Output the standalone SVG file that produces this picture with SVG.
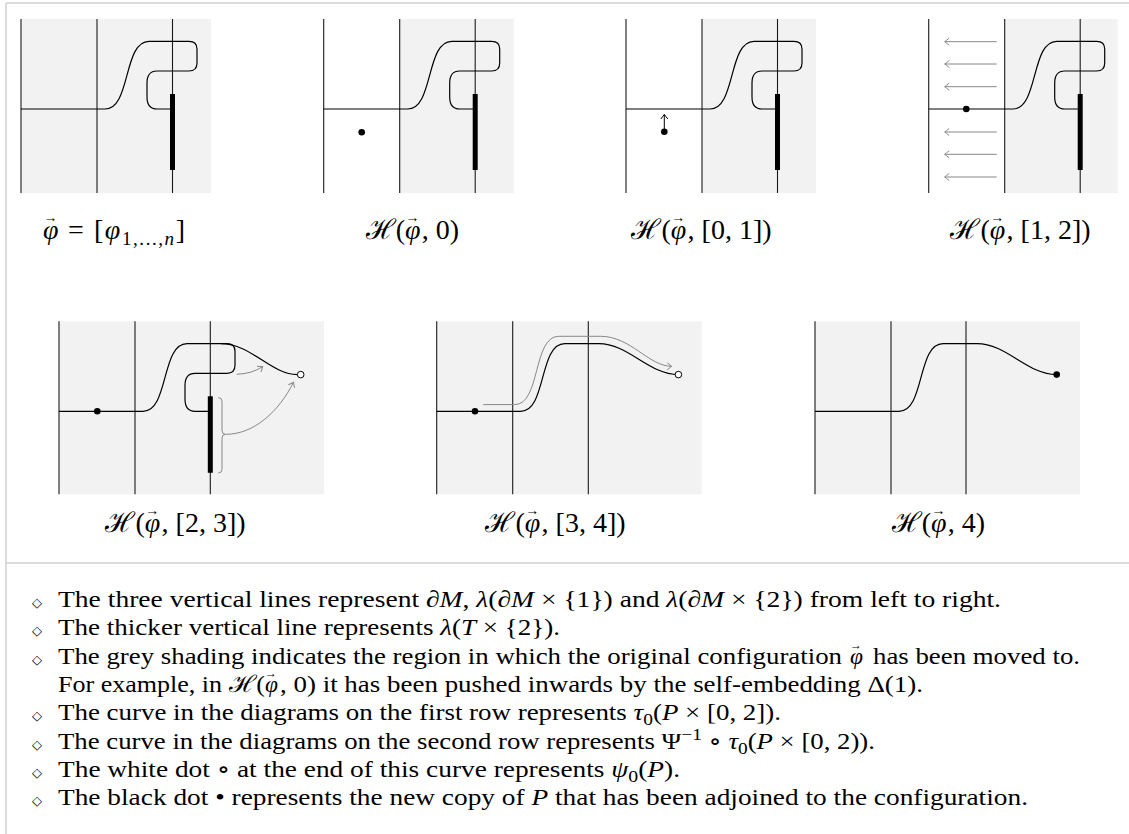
<svg xmlns="http://www.w3.org/2000/svg" width="1129" height="834" viewBox="0 0 1129 834">
<style>
.frame{stroke:#d0d0d0;stroke-width:1.5;fill:none}
.shade{fill:#f2f2f2}
.vl{stroke:#1a1a1a;stroke-width:1.1;fill:none}
.cv{stroke:#000;stroke-width:1.2;fill:none}
.thick{stroke:#000;stroke-width:5;fill:none}
.garr{stroke:#888;stroke-width:1;fill:none}
.bdot{fill:#000}
.wdot{fill:#fff;stroke:#000;stroke-width:1}
.lbl{font-family:"Liberation Serif","DejaVu Serif",serif;font-size:28px;fill:#000}
.note{font-family:"Liberation Serif","DejaVu Serif",serif;font-size:23.5px;fill:#000}
.it{font-style:italic}
.bul{font-family:"DejaVu Sans","Liberation Serif",sans-serif;font-size:13px;fill:#000}
</style>
<defs>
<marker id="ahG" viewBox="-6 -5 8 10" markerWidth="8" markerHeight="10" refX="0" refY="0" orient="auto" markerUnits="userSpaceOnUse"><path d="M-4.5,-3.5 Q-1,-0.8 0,0 Q-1,0.8 -4.5,3.5" fill="none" stroke="#888" stroke-width="1"/></marker>
<marker id="ahB" viewBox="-6 -5 8 10" markerWidth="8" markerHeight="10" refX="0" refY="0" orient="auto" markerUnits="userSpaceOnUse"><path d="M-4.5,-3.5 Q-1,-0.8 0,0 Q-1,0.8 -4.5,3.5" fill="none" stroke="#000" stroke-width="1"/></marker>
<path id="curveA" d="M0,90 H84 C110,90 102,22.3 128,22.3 H168 Q176,22.3 176,30 V44 Q176,52 168,52 H136 Q126,52 126,64 V78 Q126,90 136,90 H151.5"/>
<path id="curveB" d="M0,90 H84 C110,90 102,22.3 128,22.3 H162 C192,22.3 212,53.3 241.7,53.3"/>
</defs>

<g id="frame">
<line class="frame" x1="6" y1="3" x2="1129" y2="3"/>
<line class="frame" x1="6" y1="3" x2="6" y2="834"/>
<line class="frame" x1="6" y1="563" x2="1129" y2="563"/>
</g>

<g id="panel1" transform="translate(21,19)">
<rect class="shade" x="0" y="0" width="190" height="174"/>
<line class="vl" x1="0" y1="0" x2="0" y2="174"/>
<line class="vl" x1="76" y1="0" x2="76" y2="174"/>
<line class="vl" x1="151.5" y1="0" x2="151.5" y2="174"/>
<use href="#curveA" class="cv"/>
<line class="thick" x1="151.5" y1="75" x2="151.5" y2="151"/>
</g>

<g id="panel2" transform="translate(323.7,19)">
<rect class="shade" x="76" y="0" width="114" height="174"/>
<line class="vl" x1="0" y1="0" x2="0" y2="174"/>
<line class="vl" x1="76" y1="0" x2="76" y2="174"/>
<line class="vl" x1="151.5" y1="0" x2="151.5" y2="174"/>
<use href="#curveA" class="cv"/>
<line class="thick" x1="151.5" y1="75" x2="151.5" y2="151"/>
<circle class="bdot" cx="38" cy="113.3" r="3.3"/>
</g>

<g id="panel3" transform="translate(626,19)">
<rect class="shade" x="76" y="0" width="114" height="174"/>
<line class="vl" x1="0" y1="0" x2="0" y2="174"/>
<line class="vl" x1="76" y1="0" x2="76" y2="174"/>
<line class="vl" x1="151.5" y1="0" x2="151.5" y2="174"/>
<use href="#curveA" class="cv"/>
<line class="thick" x1="151.5" y1="75" x2="151.5" y2="151"/>
<circle class="bdot" cx="38.3" cy="112.7" r="3.3"/>
<line x1="38.3" y1="112.7" x2="38.3" y2="95.5" stroke="#000" stroke-width="1" marker-end="url(#ahB)"/>
</g>

<g id="panel4" transform="translate(928.7,19)">
<rect class="shade" x="76" y="0" width="113" height="174"/>
<line class="vl" x1="0" y1="0" x2="0" y2="174"/>
<line class="vl" x1="76" y1="0" x2="76" y2="174"/>
<line class="vl" x1="151.5" y1="0" x2="151.5" y2="174"/>
<use href="#curveA" class="cv"/>
<line class="thick" x1="151.5" y1="75" x2="151.5" y2="151"/>
<circle class="bdot" cx="37.6" cy="90" r="3.3"/>
<line class="garr" x1="68" y1="22.7" x2="16" y2="22.7" marker-end="url(#ahG)"/>
<line class="garr" x1="68" y1="45" x2="16" y2="45" marker-end="url(#ahG)"/>
<line class="garr" x1="68" y1="67.7" x2="16" y2="67.7" marker-end="url(#ahG)"/>
<line class="garr" x1="68" y1="113" x2="16" y2="113" marker-end="url(#ahG)"/>
<line class="garr" x1="68" y1="135.3" x2="16" y2="135.3" marker-end="url(#ahG)"/>
<line class="garr" x1="68" y1="158" x2="16" y2="158" marker-end="url(#ahG)"/>
</g>

<g id="panel5" transform="translate(59,321.3)">
<rect class="shade" x="0" y="0" width="265" height="173"/>
<line class="vl" x1="0" y1="0" x2="0" y2="173"/>
<line class="vl" x1="76" y1="0" x2="76" y2="173"/>
<line class="vl" x1="151.3" y1="0" x2="151.3" y2="173"/>
<use href="#curveA" class="cv"/>
<path class="cv" d="M162,22.3 C192,22.3 212,53.3 238.4,53.3"/>
<line class="thick" x1="151.3" y1="75" x2="151.3" y2="151.5"/>
<path class="garr" d="M177.7,53 Q193,52.5 203.7,45.2" marker-end="url(#ahG)"/>
<path class="garr" d="M159.3,76.3 Q163,76.3 163,80 V109 Q163,113 166.5,113 Q163,113 163,117 V148 Q163,151.7 159.3,151.7"/>
<path class="garr" d="M167,113 C195,113 220,90 234.5,61" marker-end="url(#ahG)"/>
<circle class="bdot" cx="38.3" cy="90" r="3.3"/>
<circle class="wdot" cx="241.7" cy="53.3" r="3.3"/>
</g>

<g id="panel6" transform="translate(436.7,321.3)">
<rect class="shade" x="0" y="0" width="265" height="173"/>
<line class="vl" x1="0" y1="0" x2="0" y2="173"/>
<line class="vl" x1="76" y1="0" x2="76" y2="173"/>
<line class="vl" x1="151.6" y1="0" x2="151.6" y2="173"/>
<use href="#curveB" class="cv"/>
<path class="garr" d="M46.6,83.3 H78 C104,83.3 96,15 122,15 H164 C194,15 212,45 235,45" marker-end="url(#ahG)"/>
<circle class="bdot" cx="38.3" cy="90" r="3.3"/>
<circle class="wdot" cx="241.7" cy="53.3" r="3.3"/>
</g>

<g id="panel7" transform="translate(815,321.3)">
<rect class="shade" x="0" y="0" width="265" height="173"/>
<line class="vl" x1="0" y1="0" x2="0" y2="173"/>
<line class="vl" x1="76" y1="0" x2="76" y2="173"/>
<line class="vl" x1="151" y1="0" x2="151" y2="173"/>
<use href="#curveB" class="cv"/>
<circle class="bdot" cx="241.7" cy="53.3" r="3.3"/>
</g>

<g id="labels">
<text class="lbl" x="43" y="239"><tspan class="it">φ</tspan><tspan dx="-15" dy="-17" font-size="14">→</tspan></text>
<text class="lbl" x="68" y="239" textLength="117">= [<tspan class="it">φ</tspan><tspan dy="6" font-size="19">1,...,<tspan class="it">n</tspan></tspan><tspan dy="-6">]</tspan></text>

<text class="lbl" x="405" y="239" text-anchor="end">ℋ(</text>
<text class="lbl" x="405" y="239"><tspan class="it">φ</tspan><tspan dx="-15" dy="-17" font-size="14">→</tspan></text>
<text class="lbl" x="421.8" y="239">, 0)</text>

<text class="lbl" x="670.8" y="239" text-anchor="end">ℋ(</text>
<text class="lbl" x="670.8" y="239"><tspan class="it">φ</tspan><tspan dx="-15" dy="-17" font-size="14">→</tspan></text>
<text class="lbl" x="687.6" y="239">, [0, 1])</text>

<text class="lbl" x="989.8" y="239" text-anchor="end">ℋ(</text>
<text class="lbl" x="989.8" y="239"><tspan class="it">φ</tspan><tspan dx="-15" dy="-17" font-size="14">→</tspan></text>
<text class="lbl" x="1006.6" y="239">, [1, 2])</text>

<text class="lbl" x="144.8" y="532" text-anchor="end">ℋ(</text>
<text class="lbl" x="144.8" y="532"><tspan class="it">φ</tspan><tspan dx="-15" dy="-17" font-size="14">→</tspan></text>
<text class="lbl" x="161.6" y="532">, [2, 3])</text>

<text class="lbl" x="524.8" y="532" text-anchor="end">ℋ(</text>
<text class="lbl" x="524.8" y="532"><tspan class="it">φ</tspan><tspan dx="-15" dy="-17" font-size="14">→</tspan></text>
<text class="lbl" x="541.6" y="532">, [3, 4])</text>

<text class="lbl" x="931" y="532" text-anchor="end">ℋ(</text>
<text class="lbl" x="931" y="532"><tspan class="it">φ</tspan><tspan dx="-15" dy="-17" font-size="14">→</tspan></text>
<text class="lbl" x="947.8" y="532">, 4)</text>
</g>

<g id="notes">
<text class="bul" x="37" y="607" text-anchor="middle">◇</text>
<text class="bul" x="37" y="635.3" text-anchor="middle">◇</text>
<text class="bul" x="37" y="663.6" text-anchor="middle">◇</text>
<text class="bul" x="37" y="720.2" text-anchor="middle">◇</text>
<text class="bul" x="37" y="748.5" text-anchor="middle">◇</text>
<text class="bul" x="37" y="776.8" text-anchor="middle">◇</text>
<text class="bul" x="37" y="805.1" text-anchor="middle">◇</text>
<text class="note" x="58" y="607" textLength="943" lengthAdjust="spacingAndGlyphs">The three vertical lines represent <tspan class="it">∂M</tspan>, <tspan class="it">λ</tspan>(<tspan class="it">∂M</tspan> × {1}) and <tspan class="it">λ</tspan>(<tspan class="it">∂M</tspan> × {2}) from left to right.</text>
<text class="note" x="58" y="635.3" textLength="502" lengthAdjust="spacingAndGlyphs">The thicker vertical line represents <tspan class="it">λ</tspan>(<tspan class="it">T</tspan> × {2}).</text>
<text class="note" x="58" y="663.6" textLength="784" lengthAdjust="spacingAndGlyphs">The grey shading indicates the region in which the original configuration</text>
<text class="note" x="850" y="663.6"><tspan class="it">φ</tspan><tspan dx="-13" dy="-14.5" font-size="12">→</tspan></text>
<text class="note" x="873" y="663.6" textLength="207" lengthAdjust="spacingAndGlyphs">has been moved to.</text>
<text class="note" x="58" y="691.9" textLength="207" lengthAdjust="spacingAndGlyphs">For example, in ℋ(</text>
<text class="note" x="265" y="691.9"><tspan class="it">φ</tspan><tspan dx="-13" dy="-14.5" font-size="12">→</tspan></text>
<text class="note" x="280" y="691.9" textLength="643" lengthAdjust="spacingAndGlyphs">, 0) it has been pushed inwards by the self-embedding Δ(1).</text>
<text class="note" x="58" y="720.2" textLength="723" lengthAdjust="spacingAndGlyphs">The curve in the diagrams on the first row represents <tspan class="it">τ</tspan><tspan dy="5" font-size="17">0</tspan><tspan dy="-5">(</tspan><tspan class="it">P</tspan> × [0, 2]).</text>
<text class="note" x="58" y="748.5" textLength="817" lengthAdjust="spacingAndGlyphs">The curve in the diagrams on the second row represents Ψ<tspan dy="-9" font-size="17">−1</tspan><tspan dy="9"> ∘ </tspan><tspan class="it">τ</tspan><tspan dy="5" font-size="17">0</tspan><tspan dy="-5">(</tspan><tspan class="it">P</tspan> × [0, 2)).</text>
<text class="note" x="58" y="776.8" textLength="622" lengthAdjust="spacingAndGlyphs">The white dot ∘ at the end of this curve represents <tspan class="it">ψ</tspan><tspan dy="5" font-size="17">0</tspan><tspan dy="-5">(</tspan><tspan class="it">P</tspan>).</text>
<text class="note" x="58" y="805.1" textLength="970" lengthAdjust="spacingAndGlyphs">The black dot • represents the new copy of <tspan class="it">P</tspan> that has been adjoined to the configuration.</text>
</g>
</svg>
